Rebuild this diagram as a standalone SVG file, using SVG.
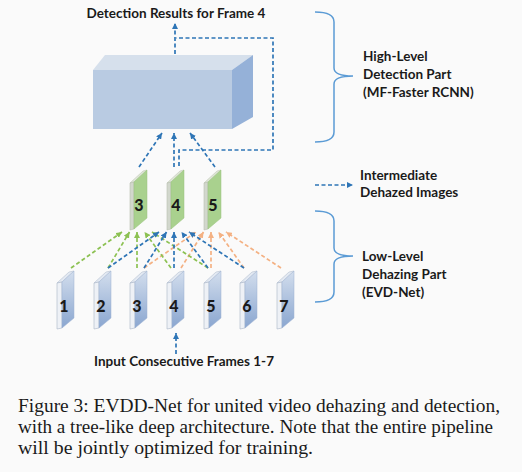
<svg xmlns="http://www.w3.org/2000/svg" xmlns:xlink="http://www.w3.org/1999/xlink" width="522" height="472" viewBox="0 0 522 472">
<style>
.lbl{font-family:Lato,"Liberation Sans",sans-serif;font-weight:bold;font-size:13.5px;fill:#1a1a1a}
.num{font-family:Lato,"Liberation Sans",sans-serif;font-weight:900;font-size:16px;fill:#1a1a1a;text-anchor:middle}
.cap{font-family:"Liberation Serif","Times New Roman",serif;font-size:18px;fill:#1a1a1a}
.d{fill:none;stroke-width:1.7;stroke-dasharray:4 2.5}
.b{stroke:#2e75b6}
.g{stroke:#8cc152}
.o{stroke:#f4b183}
.br{fill:none;stroke:#5b9bd5;stroke-width:1.5}
</style>
<defs>
<linearGradient id="gBlue" x1="0" y1="0" x2="0" y2="1">
<stop offset="0" stop-color="#d3deed"/><stop offset="1" stop-color="#8aa6d0"/>
</linearGradient>
<marker id="mb" viewBox="0 0 8 8" refX="8" refY="4" markerWidth="6" markerHeight="6" markerUnits="userSpaceOnUse" orient="auto"><path d="M0,0 L8,4 L0,8 z" fill="#2e75b6"/></marker>
<marker id="mg" viewBox="0 0 8 8" refX="8" refY="4" markerWidth="6" markerHeight="6" markerUnits="userSpaceOnUse" orient="auto"><path d="M0,0 L8,4 L0,8 z" fill="#8cc152"/></marker>
<marker id="mo" viewBox="0 0 8 8" refX="8" refY="4" markerWidth="6" markerHeight="6" markerUnits="userSpaceOnUse" orient="auto"><path d="M0,0 L8,4 L0,8 z" fill="#f4b183"/></marker>
<g id="inframe">
<polygon points="0,12 12,1 17,0 5,11" fill="#e3e9f2" stroke="#b4bfd0" stroke-width="0.6"/>
<polygon points="0,12 5,11 5,57 0,58" fill="#eef1f6" stroke="#a9b5c8" stroke-width="0.6"/>
<polygon points="5,11 17,0 17,47 5,57" fill="url(#gBlue)" stroke="#9fb3d3" stroke-width="0.5"/>
</g>
<g id="gframe">
<polygon points="0,13 13,1 17,0 4,12" fill="#dfe6d8" stroke="#bfc8b6" stroke-width="0.6"/>
<polygon points="0,13 4,12 4,59 0,60" fill="#d2d7cd" stroke="#b8bfb0" stroke-width="0.6"/>
<polygon points="4,12 17,0 17,48 4,59" fill="#a9d18e" stroke="#98c27c" stroke-width="0.5"/>
</g>
</defs>
<rect width="522" height="472" fill="#fafafa"/>

<g id="title"><text class="lbl" x="176" y="18" text-anchor="middle">Detection Results for Frame 4</text></g>

<g id="detector">
<polygon points="93,70 105,55 253,55 232,70" fill="#d6e0ec"/>
<polygon points="232,70 253,55 253,117 232,129" fill="#95b1d8"/>
<rect x="93" y="70" width="139" height="59" fill="#b9cbe2"/>
</g>

<g id="dehazed3" transform="translate(130,170)"><use xlink:href="#gframe"/><text class="num" x="9" y="41">3</text></g>
<g id="dehazed4" transform="translate(167,170)"><use xlink:href="#gframe"/><text class="num" x="9" y="41">4</text></g>
<g id="dehazed5" transform="translate(204,170)"><use xlink:href="#gframe"/><text class="num" x="9" y="41">5</text></g>

<g id="in1" transform="translate(57,271)"><use xlink:href="#inframe"/><text class="num" x="7" y="41">1</text></g>
<g id="in2" transform="translate(94,271)"><use xlink:href="#inframe"/><text class="num" x="7" y="41">2</text></g>
<g id="in3" transform="translate(130,271)"><use xlink:href="#inframe"/><text class="num" x="7" y="41">3</text></g>
<g id="in4" transform="translate(167,271)"><use xlink:href="#inframe"/><text class="num" x="7" y="41">4</text></g>
<g id="in5" transform="translate(204,271)"><use xlink:href="#inframe"/><text class="num" x="7" y="41">5</text></g>
<g id="in6" transform="translate(240,271)"><use xlink:href="#inframe"/><text class="num" x="7" y="41">6</text></g>
<g id="in7" transform="translate(277,271)"><use xlink:href="#inframe"/><text class="num" x="7" y="41">7</text></g>

<g id="connectors">
<line class="d o" x1="144" y1="268" x2="196" y2="232" marker-end="url(#mo)"/>
<line class="d o" x1="181" y1="268" x2="203.5" y2="232" marker-end="url(#mo)"/>
<line class="d o" x1="211" y1="268" x2="211" y2="232" marker-end="url(#mo)"/>
<line class="d o" x1="244" y1="268" x2="218.5" y2="232" marker-end="url(#mo)"/>
<line class="d o" x1="281" y1="268" x2="226" y2="232" marker-end="url(#mo)"/>
<line class="d g" x1="71" y1="268" x2="122" y2="232" marker-end="url(#mg)"/>
<line class="d g" x1="108" y1="268" x2="129.5" y2="232" marker-end="url(#mg)"/>
<line class="d g" x1="137" y1="268" x2="137" y2="232" marker-end="url(#mg)"/>
<line class="d g" x1="171" y1="268" x2="144.5" y2="232" marker-end="url(#mg)"/>
<line class="d g" x1="208" y1="268" x2="152" y2="232" marker-end="url(#mg)"/>
<line class="d b" x1="108" y1="268" x2="159" y2="232" marker-end="url(#mb)"/>
<line class="d b" x1="144" y1="268" x2="166.5" y2="232" marker-end="url(#mb)"/>
<line class="d b" x1="174" y1="268" x2="174" y2="232" marker-end="url(#mb)"/>
<line class="d b" x1="208" y1="268" x2="181.5" y2="232" marker-end="url(#mb)"/>
<line class="d b" x1="244" y1="268" x2="189" y2="232" marker-end="url(#mb)"/>
<line class="d b" x1="176" y1="354" x2="176" y2="333" marker-end="url(#mb)"/>
<line class="d b" x1="139" y1="167" x2="162" y2="133" marker-end="url(#mb)"/>
<line class="d b" x1="174" y1="167" x2="174" y2="133" marker-end="url(#mb)"/>
<line class="d b" x1="215" y1="167" x2="190" y2="133" marker-end="url(#mb)"/>
<path class="d b" d="M179,166 V150 H273 V38 H176"/>
<line class="d b" x1="175" y1="54" x2="175" y2="23" marker-end="url(#mb)"/>
<line class="d b" x1="315" y1="185" x2="353" y2="185" marker-end="url(#mb)"/>
</g>

<g id="highBracket">
<path class="br" d="M315,12 Q334,12 334,22 L334,68 Q334,76 353,76 Q334,76 334,84 L334,132 Q334,142 315,142"/>
<text class="lbl" x="363" y="61">High-Level</text>
<text class="lbl" x="363" y="79">Detection Part</text>
<text class="lbl" x="363" y="97">(MF-Faster RCNN)</text>
</g>
<g id="legend">
<text class="lbl" x="360" y="180">Intermediate</text>
<text class="lbl" x="360" y="197">Dehazed Images</text>
</g>
<g id="lowBracket">
<path class="br" d="M315,211 Q334,211 334,221 L334,248 Q334,256 353,256 Q334,256 334,264 L334,292 Q334,302 315,302"/>
<text class="lbl" x="362" y="261">Low-Level</text>
<text class="lbl" x="362" y="279">Dehazing Part</text>
<text class="lbl" x="362" y="297">(EVD-Net)</text>
</g>
<g id="inputLabel"><text class="lbl" x="184" y="366" text-anchor="middle">Input Consecutive Frames 1-7</text></g>

<g id="caption">
<text class="cap" x="18" y="412" textLength="482" lengthAdjust="spacingAndGlyphs">Figure 3: EVDD-Net for united video dehazing and detection,</text>
<text class="cap" x="18" y="433" textLength="475" lengthAdjust="spacingAndGlyphs">with a tree-like deep architecture. Note that the entire pipeline</text>
<text class="cap" x="18" y="454" textLength="295" lengthAdjust="spacingAndGlyphs">will be jointly optimized for training.</text>
</g>
</svg>
